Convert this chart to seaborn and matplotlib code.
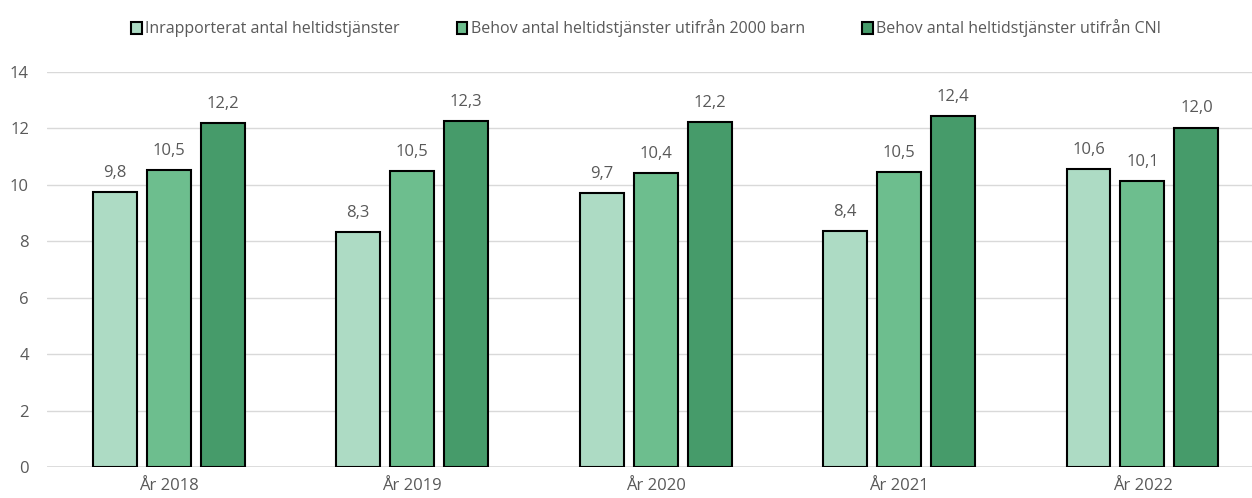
import matplotlib
matplotlib.use("Agg")
import matplotlib.pyplot as plt
import seaborn as sns
import pandas as pd

# --------------------------------
# DATA
# --------------------------------

years = ["År 2018", "År 2019", "År 2020", "År 2021", "År 2022"]

series_names = [
    "Inrapporterat antal heltidstjänster",
    "Behov antal heltidstjänster utifrån 2000 barn",
    "Behov antal heltidstjänster utifrån CNI",
]

reported = [9.76, 8.34, 9.71, 8.36, 10.56]
need_2000 = [10.52, 10.48, 10.41, 10.46, 10.12]
need_cni = [12.19, 12.26, 12.23, 12.44, 12.03]

colors = ["#ADDBC4", "#6DBE8E", "#469B6A"]

df = pd.DataFrame({
    "year": years * 3,
    "series": [series_names[0]] * 5 + [series_names[1]] * 5 + [series_names[2]] * 5,
    "value": reported + need_2000 + need_cni,
})

# --------------------------------
# PLOT
# --------------------------------

sns.set_theme(style="white")
plt.rcParams["font.family"] = ["Open Sans", "DejaVu Sans"]
text_color = "#595959"

fig = plt.figure(figsize=(12.52, 4.98), dpi=100)
ax = fig.add_axes([47 / 1252, 1 - 467 / 498, 1 - 47 / 1252, (467 - 72) / 498])

sns.barplot(
    data=df, x="year", y="value", hue="series",
    palette=colors, width=0.665, gap=0.185,
    edgecolor="black", linewidth=1.5, saturation=1,
    ax=ax, legend=True,
)

ax.set_ylim(0, 14)
ax.set_yticks(range(0, 15, 2))
ax.set_xlim(-0.5, 4.45)
ax.yaxis.grid(True, color="#D9D9D9", linewidth=1)
ax.set_axisbelow(True)
for s in ax.spines.values():
    s.set_visible(False)
ax.axhline(0, color="#D9D9D9", linewidth=1.2, zorder=0.5)

ax.set_xlabel("")
ax.set_ylabel("")
ax.tick_params(axis="both", length=0, labelsize=12, colors=text_color)
ax.tick_params(axis="x", pad=8)
ax.tick_params(axis="y", pad=13)

for cont in ax.containers:
    labels = [f"{v:.1f}".replace(".", ",") for v in cont.datavalues]
    ax.bar_label(cont, labels=labels, padding=8, fontsize=12, color=text_color)

handles, lbls = ax.get_legend_handles_labels()
ax.get_legend().remove()
fig.legend(
    handles, lbls, loc="upper center", bbox_to_anchor=(0.516, 0.99), ncol=3,
    frameon=False, fontsize=11.5, handlelength=0.65, handleheight=0.75,
    handletextpad=0.2, columnspacing=3.6, labelcolor=text_color,
)

fig.savefig("out.png", dpi=100)
